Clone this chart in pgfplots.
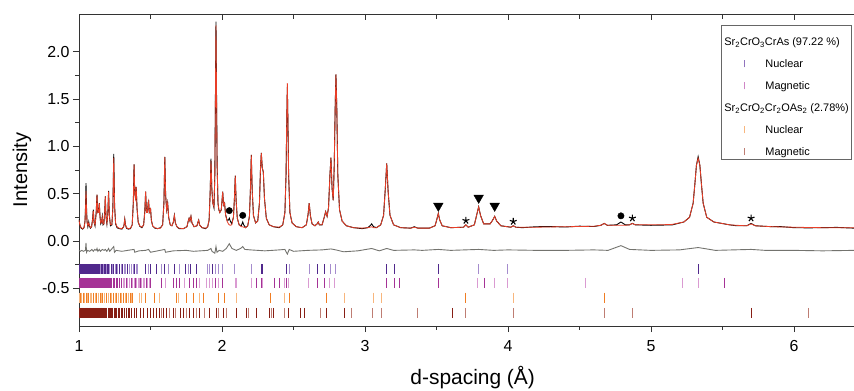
\documentclass[border=0pt]{standalone}
\usepackage{pgfplots}
\pgfplotsset{compat=1.18}
\usepackage{pgfplotstable}
\usepackage{fontspec}
\setmainfont{Liberation Sans}

\definecolor{calcred}{RGB}{232,62,40}
\definecolor{diffgray}{RGB}{115,115,110}
\definecolor{purpDark}{RGB}{80,40,140}
\definecolor{purpLight}{RGB}{165,140,205}
\definecolor{magDark}{RGB}{165,50,150}
\definecolor{magLight}{RGB}{218,155,210}
\definecolor{orDark}{RGB}{240,125,35}
\definecolor{orLight}{RGB}{248,182,125}
\definecolor{rdDark}{RGB}{135,30,20}
\definecolor{rdLight}{RGB}{190,125,115}

\pgfplotsset{tickleg/.style={legend image code/.code={\path[draw=none,fill=none] (0bp,0bp) -- (41bp,0bp); \draw[##1, line width=1.2pt] (21bp,-3.75bp) -- (21bp,3.75bp);}}}

\pgfplotstableread{
d calc obs
1.000 0.22 0.23
1.006 0.17 0.17
1.015 0.14 0.135
1.025 0.13 0.125
1.035 0.14 0.14
1.042 0.20 0.21
1.046 0.35 0.38
1.049 0.53 0.61
1.052 0.35 0.38
1.056 0.20 0.21
1.062 0.16 0.15
1.068 0.19 0.20
1.072 0.17 0.16
1.080 0.14 0.135
1.088 0.15 0.15
1.095 0.22 0.23
1.100 0.32 0.33
1.105 0.20 0.20
1.112 0.17 0.16
1.120 0.28 0.30
1.126 0.49 0.49
1.131 0.30 0.30
1.137 0.30 0.31
1.142 0.40 0.40
1.147 0.25 0.26
1.152 0.19 0.18
1.158 0.20 0.20
1.163 0.25 0.26
1.168 0.18 0.17
1.174 0.18 0.18
1.180 0.30 0.31
1.184 0.47 0.47
1.189 0.26 0.25
1.195 0.19 0.18
1.202 0.30 0.31
1.207 0.52 0.53
1.212 0.28 0.27
1.220 0.17 0.16
1.230 0.17 0.17
1.237 0.35 0.36
1.243 0.88 0.92
1.249 0.35 0.37
1.256 0.19 0.18
1.266 0.15 0.14
1.280 0.135 0.13
1.300 0.13 0.125
1.312 0.15 0.15
1.316 0.18 0.18
1.320 0.23 0.23
1.325 0.17 0.17
1.332 0.14 0.135
1.345 0.13 0.125
1.360 0.135 0.13
1.372 0.17 0.17
1.380 0.40 0.41
1.385 0.81 0.81
1.390 0.50 0.50
1.395 0.45 0.46
1.400 0.57 0.57
1.406 0.34 0.34
1.414 0.20 0.20
1.425 0.16 0.155
1.440 0.145 0.14
1.452 0.17 0.17
1.460 0.30 0.31
1.466 0.52 0.52
1.472 0.30 0.30
1.479 0.30 0.30
1.484 0.40 0.41
1.487 0.42 0.42
1.492 0.30 0.30
1.497 0.31 0.31
1.500 0.35 0.35
1.506 0.22 0.22
1.515 0.16 0.16
1.530 0.14 0.135
1.550 0.13 0.13
1.570 0.135 0.14
1.585 0.17 0.17
1.594 0.40 0.41
1.600 0.89 0.89
1.606 0.48 0.48
1.613 0.33 0.33
1.620 0.40 0.40
1.627 0.25 0.25
1.638 0.17 0.17
1.650 0.16 0.16
1.660 0.20 0.20
1.667 0.27 0.27
1.674 0.19 0.19
1.685 0.15 0.15
1.700 0.135 0.13
1.730 0.13 0.13
1.755 0.15 0.15
1.764 0.21 0.21
1.770 0.24 0.24
1.776 0.21 0.21
1.783 0.26 0.26
1.790 0.19 0.19
1.805 0.15 0.15
1.825 0.16 0.16
1.832 0.20 0.20
1.837 0.22 0.22
1.843 0.17 0.17
1.860 0.14 0.14
1.885 0.135 0.13
1.900 0.15 0.15
1.910 0.22 0.22
1.917 0.50 0.50
1.923 0.85 0.87
1.929 0.55 0.55
1.936 0.40 0.40
1.944 0.36 0.35
1.950 0.70 0.70
1.955 1.70 1.70
1.958 2.28 2.32
1.961 1.70 1.72
1.966 0.80 0.80
1.972 0.40 0.40
1.978 0.33 0.33
1.985 0.30 0.30
1.995 0.33 0.33
2.000 0.42 0.42
2.005 0.52 0.52
2.011 0.38 0.38
2.018 0.40 0.40
2.025 0.28 0.28
2.035 0.21 0.22
2.045 0.18 0.22
2.051 0.17 0.24
2.058 0.165 0.21
2.068 0.17 0.18
2.080 0.25 0.25
2.087 0.45 0.45
2.093 0.69 0.69
2.099 0.42 0.42
2.107 0.24 0.24
2.120 0.17 0.17
2.135 0.15 0.16
2.145 0.15 0.20
2.152 0.145 0.17
2.165 0.14 0.14
2.180 0.16 0.16
2.192 0.26 0.26
2.199 0.55 0.55
2.205 0.91 0.91
2.211 0.55 0.55
2.220 0.27 0.27
2.235 0.19 0.19
2.250 0.21 0.21
2.262 0.40 0.40
2.269 0.75 0.75
2.275 0.93 0.93
2.282 0.77 0.77
2.289 0.73 0.73
2.297 0.45 0.45
2.310 0.24 0.24
2.330 0.17 0.17
2.360 0.15 0.15
2.400 0.145 0.14
2.425 0.17 0.17
2.440 0.30 0.30
2.448 0.70 0.70
2.453 1.30 1.28
2.457 1.67 1.63
2.461 1.30 1.28
2.466 0.70 0.70
2.475 0.30 0.30
2.490 0.19 0.19
2.520 0.15 0.15
2.560 0.14 0.14
2.590 0.17 0.17
2.602 0.28 0.28
2.610 0.40 0.40
2.618 0.27 0.27
2.630 0.18 0.18
2.650 0.16 0.16
2.665 0.18 0.18
2.673 0.20 0.20
2.681 0.17 0.17
2.700 0.17 0.17
2.715 0.25 0.25
2.725 0.31 0.31
2.735 0.26 0.26
2.745 0.35 0.35
2.755 0.70 0.70
2.762 0.88 0.88
2.770 0.55 0.55
2.778 0.43 0.43
2.785 0.80 0.80
2.792 1.45 1.45
2.797 1.76 1.76
2.803 1.40 1.40
2.810 0.70 0.70
2.822 0.33 0.33
2.840 0.21 0.21
2.870 0.16 0.16
2.920 0.14 0.14
2.980 0.135 0.13
3.020 0.14 0.14
3.035 0.145 0.16
3.047 0.15 0.18
3.060 0.14 0.15
3.080 0.14 0.14
3.110 0.17 0.17
3.130 0.27 0.27
3.142 0.55 0.55
3.152 0.82 0.82
3.162 0.52 0.52
3.175 0.27 0.27
3.200 0.17 0.17
3.250 0.14 0.14
3.320 0.135 0.135
3.345 0.145 0.15
3.370 0.135 0.135
3.450 0.135 0.135
3.490 0.16 0.16
3.503 0.23 0.23
3.513 0.29 0.29
3.523 0.22 0.22
3.540 0.16 0.16
3.600 0.14 0.14
3.690 0.145 0.145
3.706 0.17 0.17
3.722 0.145 0.145
3.765 0.17 0.17
3.782 0.28 0.28
3.795 0.36 0.36
3.808 0.27 0.27
3.830 0.18 0.18
3.875 0.18 0.18
3.893 0.22 0.22
3.907 0.26 0.26
3.921 0.21 0.21
3.950 0.16 0.16
4.020 0.145 0.145
4.037 0.16 0.16
4.055 0.145 0.145
4.100 0.145 0.14
4.200 0.145 0.15
4.300 0.148 0.152
4.400 0.15 0.147
4.500 0.152 0.156
4.600 0.155 0.152
4.650 0.165 0.165
4.673 0.185 0.185
4.695 0.165 0.165
4.760 0.165 0.17
4.790 0.165 0.20
4.820 0.165 0.17
4.850 0.17 0.17
4.870 0.185 0.185
4.890 0.17 0.17
5.000 0.17 0.165
5.100 0.172 0.168
5.150 0.175 0.17
5.230 0.20 0.20
5.270 0.25 0.25
5.295 0.40 0.40
5.307 0.60 0.60
5.318 0.80 0.80
5.330 0.875 0.89
5.342 0.80 0.80
5.353 0.60 0.60
5.365 0.40 0.40
5.390 0.25 0.25
5.440 0.20 0.20
5.550 0.17 0.17
5.600 0.165 0.16
5.670 0.16 0.16
5.700 0.18 0.185
5.730 0.16 0.16
5.850 0.15 0.15
5.900 0.148 0.152
6.000 0.145 0.14
6.100 0.142 0.138
6.200 0.14 0.14
6.300 0.14 0.143
6.420 0.14 0.135
}\profile

\pgfplotstableread{
d diff
1.000 -0.10
1.010 -0.11
1.020 -0.10
1.030 -0.11
1.045 -0.10
1.049 -0.02
1.053 -0.12
1.060 -0.10
1.075 -0.11
1.090 -0.09
1.100 -0.11
1.110 -0.09
1.120 -0.10
1.126 -0.08
1.132 -0.11
1.142 -0.09
1.150 -0.11
1.163 -0.09
1.175 -0.10
1.184 -0.09
1.195 -0.11
1.207 -0.08
1.215 -0.11
1.243 -0.06
1.248 -0.12
1.260 -0.10
1.300 -0.11
1.340 -0.10
1.385 -0.09
1.390 -0.12
1.420 -0.105
1.466 -0.10
1.487 -0.09
1.500 -0.12
1.550 -0.105
1.600 -0.09
1.605 -0.12
1.660 -0.105
1.750 -0.10
1.800 -0.11
1.850 -0.105
1.900 -0.10
1.923 -0.08
1.930 -0.11
1.950 -0.13
1.958 -0.06
1.965 -0.12
1.980 -0.10
2.005 -0.11
2.030 -0.08
2.051 -0.03
2.070 -0.08
2.100 -0.10
2.130 -0.08
2.145 -0.06
2.160 -0.09
2.200 -0.095
2.250 -0.10
2.300 -0.105
2.350 -0.10
2.400 -0.095
2.440 -0.09
2.457 -0.14
2.470 -0.09
2.500 -0.11
2.600 -0.10
2.700 -0.095
2.762 -0.085
2.797 -0.095
2.850 -0.115
2.950 -0.105
3.047 -0.08
3.100 -0.105
3.152 -0.08
3.200 -0.10
3.345 -0.095
3.400 -0.10
3.513 -0.09
3.600 -0.10
3.795 -0.09
3.900 -0.10
4.000 -0.095
4.200 -0.10
4.400 -0.10
4.600 -0.095
4.700 -0.10
4.790 -0.05
4.850 -0.09
5.000 -0.10
5.200 -0.095
5.330 -0.07
5.450 -0.10
5.700 -0.09
5.800 -0.10
6.000 -0.10
6.200 -0.105
6.420 -0.10
}\difftab

\begin{document}
\begin{tikzpicture}
% top ticks (inward) on a matching overlay axis
\begin{axis}[
  scale only axis, width=775bp, height=312bp,
  at={(0,0)}, anchor=south west,
  xmin=1, xmax=6.42, ymin=-0.9, ymax=2.4,
  axis x line*=top, axis y line=none,
  axis line style={-, line width=0.9pt, black!80},
  xtick={1,2,3,4,5,6}, minor x tick num=1, xticklabels={},
  tick align=inside, major tick length=6bp, minor tick length=5bp,
  tick style={line width=0.8pt, black!80},
]
\end{axis}
\begin{axis}[
  scale only axis, width=775bp, height=312bp,
  at={(0,0)}, anchor=south west,
  xmin=1, xmax=6.42, ymin=-0.9, ymax=2.4,
  axis x line*=bottom, axis y line*=left,
  axis line style={-, line width=0.9pt, black!80},
  xtick={1,2,3,4,5,6}, minor x tick num=1,
  ytick={-0.5,0,0.5,1,1.5,2}, yticklabels={-0.5,0.0,0.5,1.0,1.5,2.0},
  minor y tick num=1,
  tick align=outside, major tick length=6bp, minor tick length=3.5bp,
  tick style={line width=0.8pt, black!80},
  /pgf/number format/assume math mode=true,
  ticklabel style={font=\fontsize{16}{18}\selectfont},
  xticklabel style={yshift=-5bp},
  xlabel={d-spacing (Å)}, ylabel={Intensity},
  label style={font=\fontsize{20}{24}\selectfont},
  xlabel style={font=\fontsize{21}{24}\selectfont, at={(axis description cs:0.508,0)}, anchor=center, yshift=-52bp},
  ylabel style={at={(axis description cs:-0.0735,0.5)}, anchor=center},
  legend style={at={(rel axis cs:0.9975,0.965)}, anchor=north east,
    draw=black!60, line width=0.6pt, fill=white,
    font=\fontsize{11}{13}\selectfont, row sep=12bp,
    nodes={inner sep=1bp, text depth=0pt},
    inner xsep=2bp, inner ysep=2.5bp},
  legend cell align=left,
]
\addplot[black, line width=0.9pt, forget plot] table[x=d, y=obs] {\profile};
\addplot[calcred, line width=0.8pt, forget plot] table[x=d, y=calc] {\profile};
\addplot[diffgray, line width=0.9pt, forget plot] table[x=d, y=diff] {\difftab};

% tick rows
\addplot[only marks, mark=|, mark size=5bp, mark options={line width=1.0pt}, purpDark, forget plot]
 table[x index=0, y expr=-0.30, row sep=\\]{d\\1.003\\1.008\\1.012\\1.017\\1.021\\1.026\\1.031\\1.035\\1.040\\1.044\\1.049\\1.053\\1.058\\1.063\\1.068\\1.074\\1.079\\1.085\\1.090\\1.096\\1.100\\1.107\\1.113\\1.120\\1.126\\1.133\\1.142\\1.155\\1.163\\1.178\\1.184\\1.200\\1.207\\1.225\\1.243\\1.262\\1.283\\1.305\\1.340\\1.385\\1.462\\1.501\\1.543\\1.601\\1.671\\1.748\\1.781\\1.823\\1.935\\2.273\\2.284\\2.452\\2.669\\2.720\\3.152\\3.203\\3.513\\5.330\\};
\addplot[only marks, mark=|, mark size=5bp, mark options={line width=1.0pt}, purpLight, forget plot]
 table[x index=0, y expr=-0.30, row sep=\\]{d\\1.148\\1.170\\1.192\\1.216\\1.234\\1.252\\1.272\\1.294\\1.315\\1.328\\1.353\\1.366\\1.380\\1.400\\1.410\\1.485\\1.578\\1.625\\1.706\\1.765\\1.900\\1.916\\1.953\\1.974\\2.005\\2.084\\2.207\\2.475\\2.611\\2.762\\2.797\\3.795\\3.998\\};
\addplot[only marks, mark=|, mark size=5bp, mark options={line width=1.0pt}, magDark, forget plot]
 table[x index=0, y expr=-0.445, row sep=\\]{d\\1.002\\1.007\\1.012\\1.017\\1.022\\1.027\\1.032\\1.037\\1.042\\1.047\\1.052\\1.057\\1.062\\1.067\\1.072\\1.077\\1.082\\1.088\\1.093\\1.099\\1.105\\1.111\\1.117\\1.123\\1.129\\1.135\\1.141\\1.148\\1.155\\1.162\\1.169\\1.176\\1.183\\1.190\\1.198\\1.206\\1.214\\1.222\\1.230\\1.240\\1.250\\1.260\\1.272\\1.285\\1.298\\1.330\\1.365\\1.395\\1.430\\1.470\\1.500\\1.578\\1.660\\1.683\\1.706\\1.776\\1.800\\1.823\\1.958\\2.005\\2.243\\2.273\\2.364\\2.400\\2.452\\2.669\\2.720\\3.152\\3.203\\3.238\\3.513\\3.839\\5.517\\};
\addplot[only marks, mark=|, mark size=5bp, mark options={line width=1.0pt}, magLight, forget plot]
 table[x index=0, y expr=-0.445, row sep=\\]{d\\1.310\\1.320\\1.342\\1.352\\1.375\\1.385\\1.405\\1.415\\1.420\\1.440\\1.450\\1.460\\1.480\\1.490\\1.608\\1.741\\1.841\\1.893\\1.916\\1.935\\1.977\\2.091\\2.103\\2.207\\2.284\\2.440\\2.464\\2.604\\2.755\\2.790\\3.790\\3.904\\3.998\\4.545\\5.219\\5.330\\};
\addplot[only marks, mark=|, mark size=5bp, mark options={line width=1.0pt}, orDark, forget plot]
 table[x index=0, y expr=-0.60, row sep=\\]{d\\1.012\\1.030\\1.049\\1.068\\1.100\\1.124\\1.147\\1.166\\1.194\\1.217\\1.240\\1.264\\1.287\\1.310\\1.333\\1.357\\1.375\\1.462\\1.531\\1.683\\1.753\\1.804\\1.874\\1.974\\2.021\\2.340\\2.471\\2.732\\3.706\\4.673\\};
\addplot[only marks, mark=|, mark size=5bp, mark options={line width=1.0pt}, orLight, forget plot]
 table[x index=0, y expr=-0.60, row sep=\\]{d\\1.006\\1.020\\1.040\\1.058\\1.082\\1.090\\1.112\\1.136\\1.156\\1.180\\1.205\\1.228\\1.252\\1.275\\1.298\\1.322\\1.345\\1.366\\1.422\\1.438\\1.566\\1.695\\1.846\\2.103\\2.440\\2.855\\3.058\\3.117\\4.037\\};
\addplot[only marks, mark=|, mark size=5bp, mark options={line width=1.0pt}, rdDark, forget plot]
 table[x index=0, y expr=-0.76, row sep=\\]{d\\1.002\\1.006\\1.010\\1.014\\1.018\\1.022\\1.026\\1.030\\1.034\\1.038\\1.042\\1.046\\1.050\\1.054\\1.058\\1.062\\1.066\\1.070\\1.074\\1.078\\1.083\\1.088\\1.093\\1.098\\1.103\\1.108\\1.113\\1.118\\1.124\\1.130\\1.136\\1.142\\1.148\\1.154\\1.160\\1.167\\1.174\\1.181\\1.188\\1.195\\1.203\\1.211\\1.219\\1.227\\1.236\\1.245\\1.254\\1.264\\1.274\\1.284\\1.295\\1.306\\1.318\\1.330\\1.343\\1.356\\1.370\\1.385\\1.400\\1.427\\1.450\\1.478\\1.501\\1.520\\1.543\\1.562\\1.594\\1.613\\1.660\\1.711\\1.734\\1.772\\1.800\\1.846\\1.916\\1.963\\2.009\\2.103\\2.173\\2.243\\2.331\\2.359\\2.464\\2.550\\2.580\\2.732\\2.855\\3.611\\5.700\\};
\addplot[only marks, mark=|, mark size=5bp, mark options={line width=1.0pt}, rdLight, forget plot]
 table[x index=0, y expr=-0.76, row sep=\\]{d\\1.578\\1.632\\1.678\\1.753\\1.823\\1.881\\1.974\\2.033\\2.184\\2.347\\2.436\\2.690\\2.907\\3.054\\3.117\\3.366\\3.706\\4.037\\4.673\\4.869\\6.105\\};

% peak markers
\addplot[only marks, mark=triangle*, mark size=5.5bp, mark options={rotate=180, fill=black, draw=black}, forget plot]
 coordinates {(3.513,0.37) (3.795,0.455) (3.907,0.37)};
\addplot[only marks, mark=star, mark size=3.6bp, mark options={line width=1.1pt, black}, forget plot]
 coordinates {(3.706,0.215) (4.037,0.205) (4.870,0.24) (5.700,0.24)};
\addplot[only marks, mark=*, mark size=3.2bp, mark options={fill=black, draw=black}, forget plot]
 coordinates {(2.051,0.32) (2.145,0.27) (4.790,0.265)};

% legend
\addlegendimage{empty legend}
\addlegendentry{\hspace*{-41bp}\rule{0pt}{17bp}Sr\textsubscript{2}CrO\textsubscript{3}CrAs (97.22 \%)}
\addlegendimage{tickleg, color=purpLight!75!purpDark}
\addlegendentry{Nuclear}
\addlegendimage{tickleg, color=magLight!80!magDark}
\addlegendentry{Magnetic}
\addlegendimage{empty legend}
\addlegendentry{\hspace*{-41bp}Sr\textsubscript{2}CrO\textsubscript{2}Cr\textsubscript{2}OAs\textsubscript{2} (2.78\%)}
\addlegendimage{tickleg, color=orLight}
\addlegendentry{Nuclear}
\addlegendimage{tickleg, color=rdLight}
\addlegendentry{Magnetic}
\end{axis}
\pgfresetboundingbox
\path[use as bounding box] (-79bp,-65bp) rectangle (775bp,326bp);
\end{tikzpicture}
\end{document}
